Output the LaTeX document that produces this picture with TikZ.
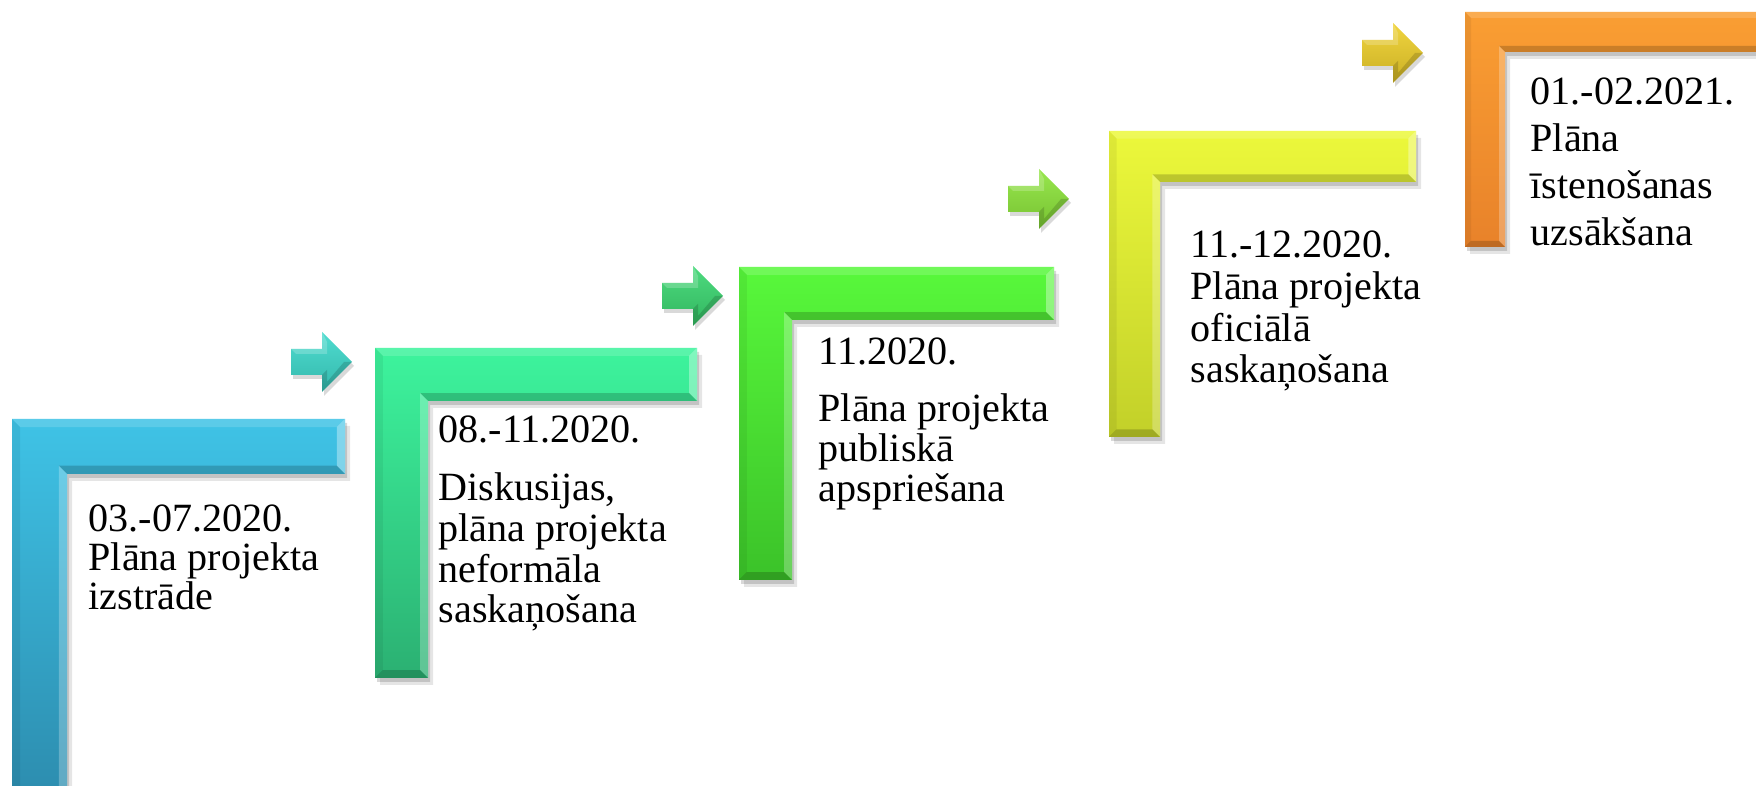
\documentclass[tikz,border=0pt]{standalone}
\usepackage{fontspec}
\setmainfont{Liberation Serif}
\definecolor{stepA}{HTML}{3FC3E6}
\definecolor{stepAd}{HTML}{2C8CAE}
\definecolor{stepB}{HTML}{3DF49D}
\definecolor{stepBd}{HTML}{2BB072}
\definecolor{stepC}{HTML}{58F83B}
\definecolor{stepCd}{HTML}{3BC229}
\definecolor{stepD}{HTML}{ECF83B}
\definecolor{stepDd}{HTML}{C2D029}
\definecolor{stepE}{HTML}{FA9E33}
\definecolor{stepEd}{HTML}{E8822A}
\definecolor{arrA}{HTML}{3CD8CA}
\definecolor{arrB}{HTML}{3AD670}
\definecolor{arrC}{HTML}{8CE43A}
\definecolor{arrD}{HTML}{EECF2A}
\newcommand{\cornerpath}{(\x,\y) -- (\r,\y) -- (\r,\y+\t) -- (\x+\t,\y+\t) -- (\x+\t,\b) -- (\x,\b) -- cycle}
\newcommand{\arrowpath}{(\x,\y-13) -- (\x+31,\y-13) -- (\x+31,\y-30) -- (\x+61,\y) -- (\x+31,\y+30) -- (\x+31,\y+13) -- (\x,\y+13) -- cycle}

\begin{document}
\begin{tikzpicture}[x=0.01cm,y=-0.01cm]
	\tikzstyle{steptext}=[anchor=base west,inner sep=0pt,align=left,font=\fontsize{11.4}{11.1}\selectfont]
	\useasboundingbox (0,0) rectangle (1756,786);
	\clip (0,0) rectangle (1756,786);
	% corner shapes: left/top/right/bottom/thickness/colours
	\foreach \x/\y/\r/\b/\t/\c/\d in {12/419/345/800/55/stepA/stepAd,
		375/348/697/678/53/stepB/stepBd,
		739/267/1054/580/53/stepC/stepCd,
		1109/131/1416/437/51/stepD/stepDd,
		1465/12/1800/247/40/stepE/stepEd}{
		\pgfmathsetmacro\e{0.15*\t}
		\fill[black,opacity=.10,shift={(5,7)}] \cornerpath;
		\fill[black,opacity=.15,shift={(2,4)}] \cornerpath;
		\shade[top color=\c,bottom color=\d] \cornerpath;
		\fill[white,opacity=.15] (\x,\y) -- (\r,\y) -- (\r-\e,\y+\e) -- (\x+\e,\y+\e) -- cycle;
		\fill[black,opacity=.06] (\x,\y) -- (\x+\e,\y+\e) -- (\x+\e,\b-\e) -- (\x,\b) -- cycle;
		\fill[white,opacity=.35] (\r,\y) -- (\r,\y+\t) -- (\r-\e,\y+\t-\e) -- (\r-\e,\y+\e) -- cycle;
		\fill[black,opacity=.18] (\r,\y+\t) -- (\x+\t,\y+\t) -- (\x+\t-\e,\y+\t-\e) -- (\r-\e,\y+\t-\e) -- cycle;
		\fill[white,opacity=.25] (\x+\t,\y+\t) -- (\x+\t,\b) -- (\x+\t-\e,\b-\e) -- (\x+\t-\e,\y+\t-\e) -- cycle;
		\fill[black,opacity=.18] (\x,\b) -- (\x+\t,\b) -- (\x+\t-\e,\b-\e) -- (\x+\e,\b-\e) -- cycle;
	}
	% small arrows between the steps
	\foreach \x/\y/\c in {291/362/arrA, 662/296/arrB, 1008/199/arrC, 1362/53/arrD}{
		\fill[black,opacity=.15,shift={(2,4)}] \arrowpath;
		\shade[top color=\c!90!white,bottom color=\c!85!black] \arrowpath;
		\fill[white,opacity=.2] (\x,\y-13) -- (\x+31,\y-13) -- (\x+31,\y-30) -- (\x+36,\y-20) -- (\x+36,\y-8) -- (\x+5,\y-8) -- cycle;
		\fill[black,opacity=.15] (\x+61,\y) -- (\x+31,\y+30) -- (\x+31,\y+13) -- (\x+36,\y+8) -- (\x+36,\y+20) -- (\x+53,\y) -- cycle;
	}
	% texts (base = last line)
	\node[steptext] (step1) at (88,610) {03.-07.2020.\\Plāna projekta\\izstrāde};
	\node[steptext] (date2) at (438,443) {08.-11.2020.};
	\node[steptext,font=\fontsize{11.4}{11.6}\selectfont] (step2) at (438,623) {Diskusijas,\\plāna projekta\\neformāla\\saskaņošana};
	\node[steptext] (date3) at (818,365) {11.2020.};
	\node[steptext,font=\fontsize{11.4}{11.4}\selectfont] (step3) at (818,502) {Plāna projekta\\publiskā\\apspriešana};
	\node[steptext,font=\fontsize{11.4}{11.9}\selectfont] (step4) at (1190,383) {11.-12.2020.\\Plāna projekta\\oficiālā\\saskaņošana};
	\node[steptext,font=\fontsize{11.4}{13.4}\selectfont] (step5) at (1530,246) {01.-02.2021.\\Plāna\\īstenošanas\\uzsākšana};
\end{tikzpicture}
\end{document}
